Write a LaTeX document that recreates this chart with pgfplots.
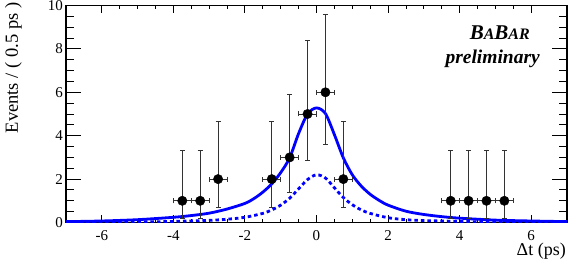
\documentclass[border=0pt]{standalone}
\usepackage{fontspec}
\setmainfont{Liberation Serif}
\usepackage{pgfplots}
\pgfplotsset{compat=1.18}
\usepackage{pgfplotstable}

% binned data: centre, events, half bin width, Poisson errors
\pgfplotstableread{
x      y  ex    em     ep
-3.75  1  0.25  0.827  2.30
-3.25  1  0.25  0.827  2.30
-2.75  2  0.25  1.292  2.638
-1.25  2  0.25  1.292  2.638
-0.75  3  0.25  1.633  2.918
-0.25  5  0.25  2.16   3.38
0.25   6  0.25  2.38   3.58
0.75   2  0.25  1.292  2.638
3.75   1  0.25  0.827  2.30
4.25   1  0.25  0.827  2.30
4.75   1  0.25  0.827  2.30
5.25   1  0.25  0.827  2.30
}\datatable

\pgfplotstableread{
x      y
-7     0.04
-6     0.07
-5     0.13
-4     0.24
-3.5   0.32
-3     0.43
-2.5   0.62
-2     0.88
-1.75  1.1
-1.5   1.4
-1.25  1.78
-1     2.3
-0.75  2.98
-0.5   4.1
-0.25  5.0
0      5.28
0.25   5.02
0.5    4.05
0.75   2.98
1      2.2
1.25   1.68
1.5    1.3
1.75   1.02
2      0.8
2.5    0.52
3      0.37
3.5    0.27
4      0.2
5      0.11
6      0.07
7      0.04
}\totalpdf

\pgfplotstableread{
x      y
-7     0.01
-6     0.015
-5     0.025
-4     0.05
-3     0.1
-2.5   0.15
-2     0.24
-1.5   0.42
-1.25  0.58
-1     0.8
-0.75  1.12
-0.5   1.55
-0.25  1.98
0      2.2
0.25   2.05
0.5    1.6
0.75   1.15
1      0.82
1.25   0.58
1.5    0.42
2      0.22
2.5    0.13
3      0.09
4      0.05
5      0.025
6      0.015
7      0.01
}\sigpdf

\begin{document}
\begin{tikzpicture}
\path[use as bounding box] (-66bp,-37bp) rectangle (506bp,222.5bp);

\pgfplotsset{
  every axis/.append style={
    scale only axis, width=501bp, height=217bp,
    at={(0,0)}, anchor=south west,
    xmin=-7, xmax=7, ymin=0, ymax=10,
    tick align=inside,
    axis line style={line width=1.1bp},
    every tick/.style={black, line width=0.9bp},
    /pgf/number format/assume math mode=true,
    ticklabel style={font=\fontsize{15bp}{15bp}\selectfont, inner sep=0.5bp},
  }
}

% y ticks only (longer ticks)
\begin{axis}[
  xtick=\empty,
  ytick={0,2,...,10},
  minor y tick num=3,
  major tick length=15bp,
  minor tick length=7.5bp,
  yticklabel style={xshift=-2.5bp},
]
\end{axis}

\begin{axis}[
  ytick=\empty,
  xtick={-6,-4,...,6},
  minor x tick num=3,
  major tick length=7bp,
  minor tick length=3.5bp,
  xticklabel style={yshift=-7.5bp},
]
\addplot[blue, line width=2.8bp, smooth] table[x=x, y=y] {\totalpdf};
\addplot[blue, line width=2.8bp, smooth, dash pattern=on 3.5bp off 3bp] table[x=x, y=y] {\sigpdf};
\addplot[only marks, mark=*, mark size=4.7bp, black,
  error bars/.cd,
    x dir=both, x explicit,
    y dir=both, y explicit,
    error mark=-,
    error bar style={line width=0.8bp, black!80},
    error mark options={rotate=90, line width=0.8bp, mark size=2.5bp, black!80},
] table[x=x, y=y, x error=ex, y error plus=ep, y error minus=em] {\datatable};
\end{axis}

\node[rotate=90, anchor=base east, font=\fontsize{18.5bp}{18.5bp}\selectfont, inner sep=0pt]
  at (-48bp,220bp) {Events / ( 0.5 ps )};
\node[anchor=base east, font=\fontsize{18bp}{18bp}\selectfont, inner sep=0pt]
  at (500bp,-33.3bp) {Δt (ps)};
\node[anchor=base east, font=\bfseries\itshape, inner sep=0pt] at (464bp,183bp)
  {{\fontsize{21bp}{21bp}\selectfont B}{\fontsize{16bp}{16bp}\selectfont A}{\fontsize{21bp}{21bp}\selectfont B}{\fontsize{16bp}{16bp}\selectfont AR}};
\node[anchor=base east, font=\bfseries\itshape\fontsize{19.5bp}{19.5bp}\selectfont, inner sep=0pt]
  at (474bp,159bp) {preliminary};
\end{tikzpicture}
\end{document}
